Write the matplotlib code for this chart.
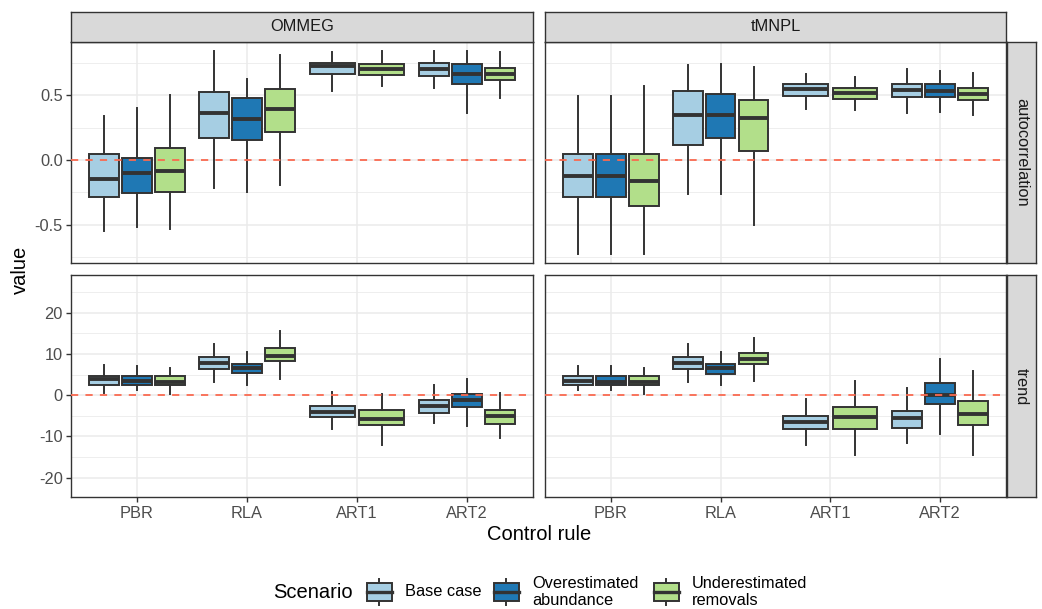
import matplotlib
matplotlib.use("Agg")
import matplotlib.pyplot as plt
from matplotlib.patches import Rectangle
from matplotlib.ticker import MultipleLocator

plt.rcParams['font.family'] = ['Liberation Sans', 'DejaVu Sans']

rules = ['PBR', 'RLA', 'ART1', 'ART2']
scenarios = ['Base case', 'Overestimated\nabundance', 'Underestimated\nremovals']
colors = ['#A6CEE3', '#1F78B4', '#B2DF8A']
models = ['OMMEG', 'tMNPL']
metrics = ['autocorrelation', 'trend']

# (lower whisker, Q1, median, Q3, upper whisker) per control rule; None = not run
ommeg_ac_base = [(-0.548, -0.289, -0.150, 0.047, 0.341), (-0.22, 0.168, 0.367, 0.522, 0.84),
                 (0.537, 0.664, 0.725, 0.754, 0.832), (0.553, 0.646, 0.703, 0.754, 0.84)]
ommeg_ac_over = [(-0.522, -0.256, -0.103, 0.015, 0.40), (-0.245, 0.152, 0.315, 0.48, 0.625),
                 None, (0.367, 0.584, 0.664, 0.744, 0.84)]
ommeg_ac_under = [(-0.535, -0.25, -0.083, 0.09, 0.504), (-0.194, 0.217, 0.398, 0.548, 0.814),
                  (0.574, 0.659, 0.703, 0.744, 0.84), (0.478, 0.615, 0.664, 0.711, 0.832)]

tmnpl_ac_base = [(-0.729, -0.289, -0.121, 0.044, 0.496), (-0.266, 0.116, 0.344, 0.537, 0.731),
                 (0.395, 0.496, 0.548, 0.589, 0.664), (0.362, 0.486, 0.543, 0.589, 0.703)]
tmnpl_ac_over = [(-0.729, -0.289, -0.121, 0.044, 0.496), (-0.266, 0.173, 0.351, 0.509, 0.744),
                 None, (0.372, 0.486, 0.535, 0.584, 0.685)]
tmnpl_ac_under = [(-0.729, -0.357, -0.16, 0.044, 0.574), (-0.506, 0.07, 0.326, 0.46, 0.723),
                  (0.388, 0.473, 0.517, 0.56, 0.641), (0.346, 0.46, 0.509, 0.553, 0.672)]

ommeg_tr_base = [(0.6, 2.5, 3.9, 4.7, 7.3), (3.3, 6.3, 7.75, 9.4, 12.45),
                 (-8.3, -5.3, -4.2, -2.6, 0.87), (-6.8, -4.4, -2.6, -1.1, 2.6)]
ommeg_tr_over = [(1.3, 2.5, 3.4, 4.7, 7.1), (2.5, 5.3, 6.55, 7.6, 10.4),
                 None, (-7.45, -2.8, -1.1, 0.3, 3.95)]
ommeg_tr_under = [(0.3, 2.5, 3.1, 4.7, 6.55), (3.9, 8.2, 9.6, 11.4, 15.7),
                  (-12.1, -7.3, -5.7, -3.7, 0.3), (-10.4, -7.1, -5.0, -3.6, 0.6)]

tmnpl_tr_base = [(1.3, 2.5, 3.5, 4.7, 7.1), (3.3, 6.3, 7.75, 9.4, 12.45),
                 (-12.1, -8.3, -6.6, -5.0, -1.0), (-11.5, -8.0, -5.6, -3.8, 1.85)]
tmnpl_tr_over = [(1.3, 2.5, 3.3, 4.7, 7.1), (2.5, 5.2, 6.55, 7.6, 10.4),
                 None, (-9.4, -2.1, 0.07, 3.06, 8.8)]
tmnpl_tr_under = [(0.3, 2.5, 3.1, 4.7, 6.55), (3.55, 7.6, 8.7, 10.2, 13.9),
                  (-14.5, -8.2, -5.4, -2.8, 3.55), (-14.5, -7.3, -4.5, -1.3, 5.9)]

panels = {
    ('autocorrelation', 'OMMEG'): [ommeg_ac_base, ommeg_ac_over, ommeg_ac_under],
    ('autocorrelation', 'tMNPL'): [tmnpl_ac_base, tmnpl_ac_over, tmnpl_ac_under],
    ('trend', 'OMMEG'): [ommeg_tr_base, ommeg_tr_over, ommeg_tr_under],
    ('trend', 'tMNPL'): [tmnpl_tr_base, tmnpl_tr_over, tmnpl_tr_under],
}
row_ylim = {'autocorrelation': (-0.80, 0.915), 'trend': (-24.8, 29.2)}
row_major = {'autocorrelation': 0.5, 'trend': 10}

W, H = 1042, 609
DARK = '#333333'
SMALL, BIG = 11.8, 14.5
fig = plt.figure(figsize=(W / 100, H / 100), dpi=100)


def px_axes(x0, y0, x1, y1):
    return fig.add_axes([x0 / W, 1 - y1 / H, (x1 - x0) / W, (y1 - y0) / H])


def strip(x0, y0, x1, y1, label, rotation=0):
    sax = px_axes(x0, y0, x1, y1)
    sax.set_facecolor('#D9D9D9')
    sax.set_xticks([])
    sax.set_yticks([])
    for sp in sax.spines.values():
        sp.set_color(DARK)
        sp.set_linewidth(1.0)
    sax.text(0.5, 0.5, label, ha='center', va='center', rotation=rotation,
             fontsize=SMALL, color='#1A1A1A', transform=sax.transAxes)


cols = [(71, 533), (545, 1006)]
rows = [(41.7, 263.3), (275, 497.3)]

for r, metric in enumerate(metrics):
    for c, model in enumerate(models):
        ax = px_axes(cols[c][0], rows[r][0], cols[c][1], rows[r][1])
        series = panels[(metric, model)]
        for i in range(len(rules)):
            present = [s for s in range(len(scenarios)) if series[s][i] is not None]
            slot = 0.9 / len(present)
            for k, s in enumerate(present):
                lo, q1, med, q3, hi = series[s][i]
                pos = i + 1 - 0.45 + slot * (k + 0.5)
                ax.bxp([dict(whislo=lo, q1=q1, med=med, q3=q3, whishi=hi, fliers=[])],
                       positions=[pos], widths=[slot * 0.9], patch_artist=True,
                       showcaps=False, showfliers=False, manage_ticks=False,
                       boxprops=dict(facecolor=colors[s], edgecolor=DARK, linewidth=1.4),
                       whiskerprops=dict(color=DARK, linewidth=1.4),
                       medianprops=dict(color=DARK, linewidth=2.8, solid_capstyle='butt'))
        ax.axhline(0, color='#FA6A50', linestyle=(0, (4, 4)), linewidth=1.3, zorder=6)
        ax.set_xlim(0.4, 4.6)
        ax.set_ylim(*row_ylim[metric])
        ax.yaxis.set_major_locator(MultipleLocator(row_major[metric]))
        ax.yaxis.set_minor_locator(MultipleLocator(row_major[metric] / 2))
        ax.set_xticks(range(1, len(rules) + 1))
        ax.set_xticklabels(rules)
        ax.set_axisbelow(True)
        ax.grid(which='major', color='#EBEBEB', linewidth=1.1)
        ax.grid(which='minor', axis='y', color='#EBEBEB', linewidth=0.6)
        ax.tick_params(which='major', length=3.5, width=1.0, color=DARK,
                       labelsize=SMALL, labelcolor='#4D4D4D', pad=2.5)
        ax.tick_params(which='minor', length=0)
        if metric == 'autocorrelation':
            ax.yaxis.set_major_formatter(plt.FuncFormatter(lambda v, p: f'{v:.1f}'))
        else:
            ax.yaxis.set_major_formatter(plt.FuncFormatter(lambda v, p: f'{v:.0f}'))
        if r == 0:
            ax.tick_params(axis='x', length=0, labelbottom=False)
        if c == 1:
            ax.tick_params(axis='y', length=0, labelleft=False)
        for sp in ax.spines.values():
            sp.set_color(DARK)
            sp.set_linewidth(1.0)
        if r == 0:
            strip(cols[c][0], 12, cols[c][1], rows[r][0], model)
    strip(1007, rows[r][0], 1036, rows[r][1], metric, rotation=-90)

fig.text(20 / W, 1 - 270 / H, 'value', rotation=90, ha='center', va='center',
         fontsize=BIG, color='black')
fig.text(539 / W, 1 - 535 / H, 'Control rule', ha='center', va='center',
         fontsize=BIG, color='black')

# legend
lax = fig.add_axes([0, 0, 1, 1])
lax.set_xlim(0, W)
lax.set_ylim(H, 0)
lax.axis('off')
lax.text(273, 593, 'Scenario', ha='left', va='center', fontsize=BIG)
key_x = [379, 506, 666]
label_x = [405, 532, 692]
for s, name in enumerate(scenarios):
    cx, cy = key_x[s], 592
    lax.plot([cx, cx], [cy - 13, cy + 13], color=DARK, linewidth=1.4)
    lax.add_patch(Rectangle((cx - 12.5, cy - 9), 25, 18, facecolor=colors[s],
                            edgecolor=DARK, linewidth=1.4, zorder=3))
    lax.plot([cx - 12.5, cx + 12.5], [cy, cy], color=DARK, linewidth=2.4, zorder=4)
    lax.text(label_x[s], cy, name, ha='left', va='center', fontsize=SMALL,
             linespacing=1.15)

fig.savefig('out.png', dpi=100)
